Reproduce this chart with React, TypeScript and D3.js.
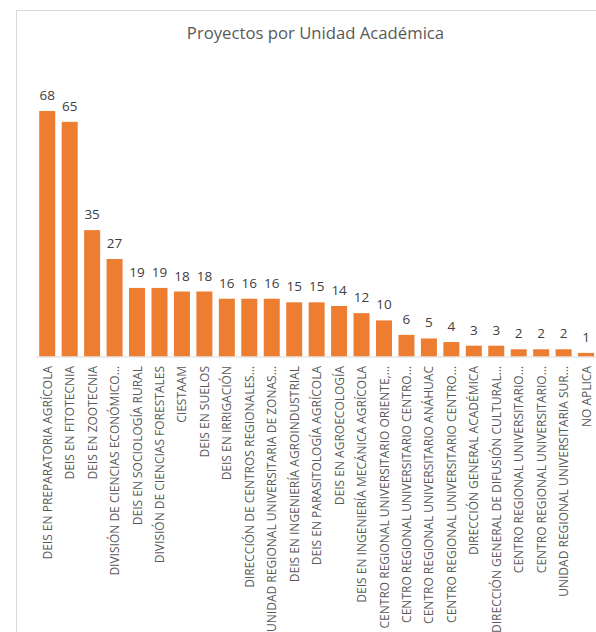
import React from "react";
import * as d3 from "d3";

const categories: string[] = [
  "DEIS EN PREPARATORIA AGRÍCOLA",
  "DEIS EN FITOTECNIA",
  "DEIS EN ZOOTECNIA",
  "DIVISIÓN DE CIENCIAS ECONÓMICO…",
  "DEIS EN SOCIOLOGÍA RURAL",
  "DIVISIÓN DE CIENCIAS FORESTALES",
  "CIESTAAM",
  "DEIS EN SUELOS",
  "DEIS EN IRRIGACIÓN",
  "DIRECCIÓN DE CENTROS REGIONALES…",
  "UNIDAD REGIONAL UNIVERSITARIA DE ZONAS…",
  "DEIS EN INGENIERÍA AGROINDUSTRIAL",
  "DEIS EN PARASITOLOGÍA AGRÍCOLA",
  "DEIS EN AGROECOLOGÍA",
  "DEIS EN INGENIERÍA MECÁNICA AGRÍCOLA",
  "CENTRO REGIONAL UNIVERSITARIO ORIENTE,…",
  "CENTRO REGIONAL UNIVERSITARIO CENTRO…",
  "CENTRO REGIONAL UNIVERSITARIO ANÁHUAC",
  "CENTRO REGIONAL UNIVERSITARIO CENTRO…",
  "DIRECCIÓN GENERAL ACADÉMICA",
  "DIRECCIÓN GENERAL DE DIFUSIÓN CULTURAL…",
  "CENTRO REGIONAL UNIVERSITARIO…",
  "CENTRO REGIONAL UNIVERSITARIO…",
  "UNIDAD REGIONAL UNIVERSITARIA SUR…",
  "NO APLICA",
];

const values: number[] = [
  68, 65, 35, 27, 19, 19, 18, 18, 16, 16, 16, 15, 15, 14, 12, 10, 6, 5, 4, 3, 3, 2, 2, 2, 1,
];

const title = "Proyectos por Unidad Académica";

const W = 596;
const H = 632;
const FONT = "'Open Sans', 'Noto Sans', sans-serif";

export default function App() {
  const ids = categories.map((_, i) => String(i));
  const x = d3
    .scaleBand<string>()
    .domain(ids)
    .range([36, 597.3])
    .paddingInner(0.287)
    .paddingOuter(0.1435);
  const y = d3.scaleLinear().domain([0, 68]).range([356.5, 111]);
  const baseY = y(0);

  return (
    <svg
      width={W}
      height={H}
      style={{ position: "absolute", left: 0, top: 0, background: "#fff" }}
      fontFamily={FONT}
    >
      <rect x={0} y={0} width={W} height={H} fill="#fff" />
      <rect x={16.5} y={10.5} width={800} height={800} fill="#fff" stroke="#d9d9d9" strokeWidth={1} />
      <text x={315.5} y={38.5} textAnchor="middle" fontSize={16.7} fill="#595959">
        {title}
      </text>
      {values.map((v, i) => {
        const bx = x(String(i))!;
        const bw = x.bandwidth();
        return (
          <g key={i}>
            <rect x={bx} y={y(v)} width={bw} height={baseY - y(v)} fill="#ED7D31" />
            <text
              x={bx + bw / 2}
              y={y(v) - 11}
              textAnchor="middle"
              fontSize={13.5}
              fill="#404040"
            >
              {v}
            </text>
          </g>
        );
      })}
      <line x1={36} x2={W} y1={baseY + 0.5} y2={baseY + 0.5} stroke="#d9d9d9" strokeWidth={1.2} />
      {categories.map((c, i) => {
        const cx = x(String(i))! + x.bandwidth() / 2;
        return (
          <text
            key={i}
            transform={`translate(${cx + 4.5},366) rotate(-90)`}
            textAnchor="end"
            fontSize={12}
            fill="#595959"
          >
            {c}
          </text>
        );
      })}
    </svg>
  );
}
